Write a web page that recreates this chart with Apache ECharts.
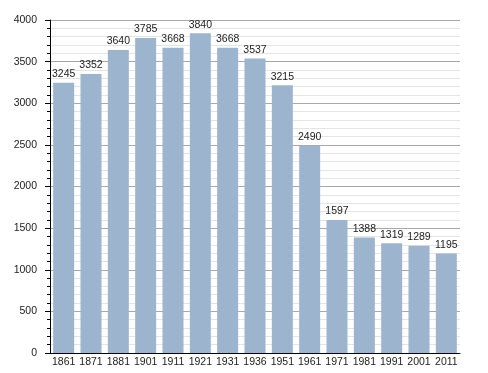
<!DOCTYPE html>
<html><head><meta charset="utf-8">
<script src="https://cdn.jsdelivr.net/npm/echarts@6/dist/echarts.min.js"></script>
<style>html,body{margin:0;padding:0;background:#fff}#c{width:488px;height:373px}</style>
</head><body><div id="c"></div>
<script>
var years = ['1861','1871','1881','1901','1911','1921','1931','1936','1951','1961','1971','1981','1991','2001','2011'];
var population = [3245,3352,3640,3785,3668,3840,3668,3537,3215,2490,1597,1388,1319,1289,1195];
var yMin = 0, yMax = 4000, yStep = 500;

var font = 'Liberation Sans, Arial, sans-serif';
var chart = echarts.init(document.getElementById('c'), null, {renderer:'canvas'});
chart.setOption({
  animation: false,
  backgroundColor: '#fff',
  grid: {left: 50, right: 28, top: 20, bottom: 20, containLabel: false},
  xAxis: {
    type: 'category', data: years,
    axisLine: {show: true, lineStyle: {color: '#000', width: 1}},
    axisTick: {show: false},
    axisLabel: {color: '#222', fontFamily: font, fontSize: 10.5, margin: 4, interval: 0}
  },
  yAxis: {
    type: 'value', min: yMin, max: yMax, interval: yStep,
    axisLine: {show: true, lineStyle: {color: '#000', width: 1}},
    axisTick: {show: true, length: 5, lineStyle: {color: '#000'}},
    minorTick: {show: true, splitNumber: 5, length: 3, lineStyle: {color: '#000'}},
    splitLine: {show: true, lineStyle: {color: '#a8a8a8', width: 1}},
    minorSplitLine: {show: true, lineStyle: {color: '#e4e4e4', width: 1}},
    axisLabel: {color: '#222', fontFamily: font, fontSize: 10.5, margin: 13,
      formatter: function (v) { return String(v); }}
  },
  series: [{
    type: 'bar', data: population, barWidth: 21,
    itemStyle: {color: '#9db4ce'},
    label: {show: true, position: 'top', distance: 3, color: '#222', fontFamily: font, fontSize: 10.5}
  }]
});
</script></body></html>
